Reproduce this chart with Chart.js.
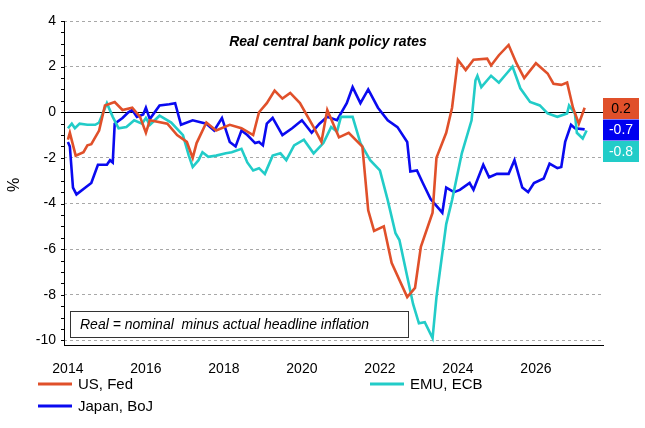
<!DOCTYPE html>
<html>
<head>
<meta charset="utf-8">
<script src="https://cdn.jsdelivr.net/npm/chart.js@4"></script>
<style>
  body { margin: 0; background: #fff; }
  #wrap { width: 645px; height: 428px; }
</style>
</head>
<body>
<div id="wrap"><canvas id="c" width="645" height="428"></canvas></div>
<script>
// Real central bank policy rates, %
const fedX = [2014.0, 2014.05, 2014.2, 2014.4, 2014.5, 2014.6, 2014.8, 2014.95, 2015.2, 2015.4, 2015.65, 2015.85, 2016.0, 2016.1, 2016.55, 2016.8, 2017.05, 2017.2, 2017.3, 2017.55, 2017.8, 2018.15, 2018.45, 2018.75, 2018.9, 2019.1, 2019.3, 2019.5, 2019.7, 2019.95, 2020.3, 2020.5, 2020.65, 2020.95, 2021.2, 2021.55, 2021.7, 2021.85, 2022.1, 2022.3, 2022.7, 2022.9, 2023.05, 2023.35, 2023.45, 2023.7, 2023.85, 2024.0, 2024.2, 2024.4, 2024.75, 2024.85, 2025.05, 2025.3, 2025.5, 2025.7, 2026.0, 2026.3, 2026.45, 2026.65, 2026.8, 2026.95, 2027.1, 2027.25];
const fedY = [-1.2, -0.9, -1.9, -1.75, -1.45, -1.4, -0.8, 0.3, 0.45, 0.1, 0.2, -0.2, -0.9, -0.35, -0.5, -1.0, -1.3, -2.0, -1.35, -0.45, -0.8, -0.55, -0.7, -1.0, 0.0, 0.4, 0.95, 0.6, 0.85, 0.4, -0.65, -1.3, 0.1, -1.1, -0.9, -1.5, -4.3, -5.2, -5.0, -6.6, -8.1, -7.7, -5.9, -4.4, -2.0, -0.9, 0.2, 2.3, 1.85, 2.3, 2.35, 2.05, 2.5, 2.95, 2.15, 1.5, 2.15, 1.7, 1.25, 1.2, 1.3, 0.2, -0.5, 0.2];

const bojX = [2014.0, 2014.05, 2014.13, 2014.22, 2014.45, 2014.6, 2014.77, 2015.0, 2015.08, 2015.15, 2015.2, 2015.4, 2015.55, 2015.65, 2015.77, 2015.93, 2016.0, 2016.1, 2016.35, 2016.6, 2016.75, 2016.9, 2017.2, 2017.55, 2017.75, 2017.95, 2018.15, 2018.3, 2018.45, 2018.6, 2018.8, 2018.9, 2019.0, 2019.1, 2019.25, 2019.5, 2019.75, 2020.0, 2020.25, 2020.45, 2020.65, 2020.9, 2021.15, 2021.3, 2021.5, 2021.7, 2021.95, 2022.2, 2022.45, 2022.7, 2022.78, 2022.95, 2023.1, 2023.3, 2023.6, 2023.7, 2023.9, 2024.05, 2024.3, 2024.4, 2024.65, 2024.8, 2025.0, 2025.3, 2025.45, 2025.65, 2025.8, 2025.95, 2026.2, 2026.35, 2026.55, 2026.65, 2026.75, 2026.9, 2027.0, 2027.25];
const bojY = [-1.3, -1.5, -3.3, -3.6, -3.3, -3.1, -2.3, -2.3, -2.1, -2.2, -0.5, -0.25, 0.0, 0.1, -0.2, -0.1, 0.2, -0.3, 0.3, 0.35, 0.4, -0.55, -0.35, -0.5, -0.8, -0.25, -1.3, -1.5, -0.8, -1.0, -1.35, -1.3, -1.45, -0.5, -0.25, -1.0, -0.7, -0.35, -0.9, -0.5, -0.2, -0.35, 0.4, 1.1, 0.4, 1.0, 0.2, -0.35, -0.65, -1.3, -2.6, -2.55, -3.1, -3.8, -4.4, -3.3, -3.5, -3.4, -3.1, -3.4, -2.3, -2.85, -2.7, -2.7, -2.1, -3.3, -3.5, -3.1, -2.9, -2.25, -2.45, -2.4, -1.3, -0.55, -0.7, -0.75];

const ecbX = [2014.0, 2014.1, 2014.18, 2014.3, 2014.5, 2014.7, 2014.8, 2015.0, 2015.15, 2015.3, 2015.5, 2015.7, 2015.9, 2016.0, 2016.1, 2016.35, 2016.65, 2016.95, 2017.1, 2017.2, 2017.35, 2017.45, 2017.6, 2017.8, 2018.05, 2018.2, 2018.45, 2018.6, 2018.75, 2018.9, 2019.05, 2019.25, 2019.45, 2019.6, 2019.8, 2020.05, 2020.3, 2020.55, 2020.75, 2020.9, 2021.0, 2021.3, 2021.5, 2021.75, 2022.0, 2022.2, 2022.4, 2022.5, 2022.7, 2022.85, 2023.0, 2023.15, 2023.35, 2023.45, 2023.7, 2023.85, 2024.1, 2024.35, 2024.45, 2024.5, 2024.6, 2024.85, 2025.05, 2025.25, 2025.4, 2025.6, 2025.85, 2026.1, 2026.3, 2026.55, 2026.8, 2026.85, 2027.0, 2027.05, 2027.2, 2027.3];
const ecbY = [-0.7, -0.5, -0.7, -0.5, -0.55, -0.55, -0.45, 0.4, -0.2, -0.7, -0.65, -0.35, -0.5, -0.25, -0.55, -0.15, -0.45, -1.0, -1.9, -2.4, -2.1, -1.75, -1.95, -1.9, -1.8, -1.75, -1.6, -2.2, -2.55, -2.45, -2.7, -1.9, -1.8, -2.1, -1.45, -1.2, -1.8, -1.35, -0.65, -0.85, -0.2, -0.2, -1.35, -2.1, -2.55, -3.85, -5.3, -5.6, -7.2, -8.4, -9.25, -9.2, -9.9, -8.1, -4.9, -3.85, -1.8, -0.35, 1.4, 1.6, 1.1, 1.6, 1.3, 1.7, 2.0, 1.05, 0.45, 0.3, -0.05, -0.2, -0.05, 0.3, -0.05, -0.9, -1.15, -0.8];

const yearTicks = [2014, 2016, 2018, 2020, 2022, 2024, 2026];
const lastLabels = [
  { text: "0.2", bg: "#E0502A", fg: "#000000" },
  { text: "-0.7", bg: "#0000F0", fg: "#FFFFFF" },
  { text: "-0.8", bg: "#22CCC8", fg: "#FFFFFF" }
];

const RED = "#E0502A", BLUE = "#0A0AF0", CYAN = "#22CCC8";
const FONT = "'Liberation Sans', Arial, sans-serif";

const pts = (xs, ys) => xs.map((x, i) => ({ x, y: ys[i] }));

const extras = {
  id: "extras",
  beforeDatasetsDraw(chart) {
    const { ctx, chartArea: a, scales: { y } } = chart;
    ctx.save();
    ctx.strokeStyle = "#000";
    ctx.lineWidth = 1;
    // zero line
    const zy = Math.round(y.getPixelForValue(0)) + 0.5;
    ctx.beginPath();
    ctx.moveTo(a.left, zy);
    ctx.lineTo(a.right, zy);
    ctx.stroke();
    // y axis line and minor ticks
    ctx.beginPath();
    ctx.moveTo(a.left + 0.5, a.top);
    ctx.lineTo(a.left + 0.5, a.bottom);
    ctx.stroke();
    for (let v = -10; v <= 4; v += 0.5) {
      const py = Math.round(y.getPixelForValue(v)) + 0.5;
      ctx.beginPath();
      ctx.moveTo(a.left - 3, py);
      ctx.lineTo(a.left, py);
      ctx.stroke();
    }
    ctx.restore();
  },
  afterDraw(chart) {
    const { ctx } = chart;
    ctx.save();
    // title
    ctx.fillStyle = "#000";
    ctx.font = "italic bold 14px " + FONT;
    ctx.textAlign = "center";
    ctx.textBaseline = "middle";
    ctx.fillText("Real central bank policy rates", 328, 42);
    // annotation box
    ctx.fillStyle = "#fff";
    ctx.fillRect(70, 311, 338, 26);
    ctx.strokeStyle = "#333";
    ctx.lineWidth = 1;
    ctx.strokeRect(70.5, 311.5, 338, 26);
    ctx.fillStyle = "#000";
    ctx.font = "italic 14px " + FONT;
    ctx.textAlign = "left";
    ctx.fillText("Real = nominal  minus actual headline inflation", 80, 325);
    // y axis title
    ctx.save();
    ctx.translate(15, 185);
    ctx.rotate(-Math.PI / 2);
    ctx.textAlign = "center";
    ctx.font = "16px " + FONT;
    ctx.fillText("%", 0, 0);
    ctx.restore();
    // last value boxes
    ctx.font = "14px " + FONT;
    ctx.textAlign = "center";
    lastLabels.forEach((l, i) => {
      const top = 98 + i * 21.5;
      ctx.fillStyle = l.bg;
      ctx.fillRect(603, top, 36, 21);
      ctx.fillStyle = l.fg;
      ctx.fillText(l.text, 621, top + 11);
    });
    // legend
    const items = [
      { t: "US, Fed", c: RED, x: 38, y: 384 },
      { t: "EMU, ECB", c: CYAN, x: 370, y: 384 },
      { t: "Japan, BoJ", c: BLUE, x: 38, y: 406 }
    ];
    ctx.textAlign = "left";
    ctx.font = "15px " + FONT;
    items.forEach(it => {
      ctx.strokeStyle = it.c;
      ctx.lineWidth = 3;
      ctx.beginPath();
      ctx.moveTo(it.x, it.y);
      ctx.lineTo(it.x + 34, it.y);
      ctx.stroke();
      ctx.fillStyle = "#000";
      ctx.fillText(it.t, it.x + 40, it.y + 1);
    });
    ctx.restore();
  }
};

const lineDs = (label, data, color) => ({
  label, data, borderColor: color, borderWidth: 2.6,
  pointRadius: 0, tension: 0, fill: false
});

new Chart(document.getElementById("c"), {
  type: "line",
  data: {
    datasets: [
      lineDs("US, Fed", pts(fedX, fedY), RED),
      lineDs("EMU, ECB", pts(ecbX, ecbY), CYAN),
      lineDs("Japan, BoJ", pts(bojX, bojY), BLUE)
    ]
  },
  options: {
    responsive: false,
    animation: false,
    layout: { padding: { left: 24, right: 42, top: 21, bottom: 53 } },
    plugins: { legend: { display: false }, tooltip: { enabled: false } },
    scales: {
      x: {
        type: "linear",
        min: 2013.9,
        max: 2027.72,
        afterBuildTicks: s => { s.ticks = yearTicks.map(v => ({ value: v })); },
        afterFit: s => { s.height = 30; },
        grid: { display: false, drawTicks: false },
        border: { color: "#000", width: 1 },
        ticks: { color: "#000", font: { family: FONT, size: 14 }, padding: 16, maxRotation: 0,
                 callback: v => String(v) }
      },
      y: {
        min: -10.2,
        max: 4,
        afterBuildTicks: s => {
          const t = [];
          for (let v = -10; v <= 4; v += 2) t.push({ value: v });
          s.ticks = t;
        },
        afterFit: s => { s.width = 40; },
        border: { display: false, dash: [3, 3] },
        grid: {
          color: c => c.tick.value === 0 ? "rgba(0,0,0,0)" : "#A8A8A8",
          drawTicks: false
        },
        ticks: { color: "#000", font: { family: FONT, size: 14 }, padding: 8 }
      }
    }
  },
  plugins: [extras]
});
</script>
</body>
</html>
